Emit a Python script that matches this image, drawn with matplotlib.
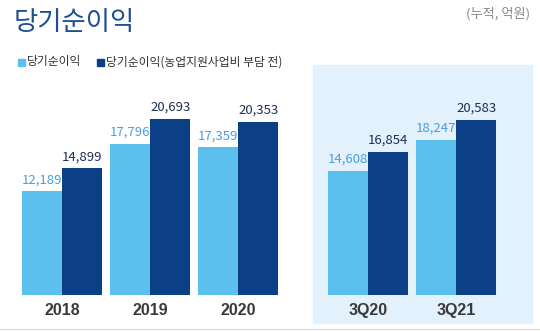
import matplotlib.pyplot as plt
from matplotlib.patches import Rectangle
from matplotlib.lines import Line2D

plt.rcParams['font.family'] = ['Noto Sans CJK KR', 'DejaVu Sans']

years = ['2018', '2019', '2020']
net_year = [12189, 17796, 17359]
pre_year = [14899, 20693, 20353]

quarters = ['3Q20', '3Q21']
net_q = [14608, 18247]
pre_q = [16854, 20583]

light = '#5cc0ef'
dark = '#0b3f86'
light_txt = '#4a9ee0'
dark_txt = '#1d2f52'

W, H = 540, 331
fig = plt.figure(figsize=(W / 100, H / 100), dpi=100)


def px_box(x0, x1, ytop, ybot):
    return [x0 / W, 1 - ybot / H, (x1 - x0) / W, (ybot - ytop) / H]


# shaded background of quarterly panel
fig.patches.append(Rectangle((313 / W, 1 - 323 / H), 219 / W, 258 / H,
                             transform=fig.transFigure, color='#e3f1fc', zorder=-5))
# bottom rule
fig.add_artist(Line2D([0, 1], [1 - 329 / H, 1 - 329 / H], color='#dddddd', lw=1))

ymax = 24000
bw = 0.46


def panel(box, xlim, labels, a, b):
    ax = fig.add_axes(box)
    ax.set_facecolor('none')
    ax.set_zorder(2)
    x = range(len(labels))
    ax.bar([i - bw / 2 for i in x], a, bw, color=light)
    ax.bar([i + bw / 2 for i in x], b, bw, color=dark)
    for i in x:
        ax.text(i - bw / 2, a[i] + 600, f'{a[i]:,}', ha='center', va='bottom',
                fontsize=9.5, color=light_txt)
        ax.text(i + bw / 2, b[i] + 600, f'{b[i]:,}', ha='center', va='bottom',
                fontsize=9.5, color=dark_txt)
    ax.set_xlim(*xlim)
    ax.set_ylim(0, ymax)
    ax.set_xticks(list(x))
    ax.set_xticklabels(labels, fontsize=11.5, fontweight='bold', color='#3a3a3a',
                       family='Liberation Sans')
    ax.tick_params(length=0, pad=6)
    ax.set_yticks([])
    for s in ax.spines.values():
        s.set_visible(False)
    return ax


panel(px_box(15, 290, 91, 295), ((15 - 62) / 88, (290 - 62) / 88), years, net_year, pre_year)
panel(px_box(313, 532, 91, 295), ((313 - 368) / 88, (532 - 368) / 88), quarters, net_q, pre_q)

fig.text(14 / W, 1 - 22 / H, '당기순이익', fontsize=19, color='#1d4f91', va='center', ha='left')
fig.text(530 / W, 1 - 14 / H, '(누적, 억원)', fontsize=9.5, color='#888888', va='center', ha='right')

# legend
for xs, lab, c in [(18, '당기순이익', light), (97, '당기순이익(농업지원사업비 부담 전)', dark)]:
    fig.patches.append(Rectangle((xs / W, 1 - 66 / H), 7 / W, 7 / H,
                                 transform=fig.transFigure, color=c))
    fig.text((xs + 9) / W, 1 - 62 / H, lab, fontsize=8.5, color='#333333', va='center', ha='left')

fig.savefig('out.png', dpi=100)
